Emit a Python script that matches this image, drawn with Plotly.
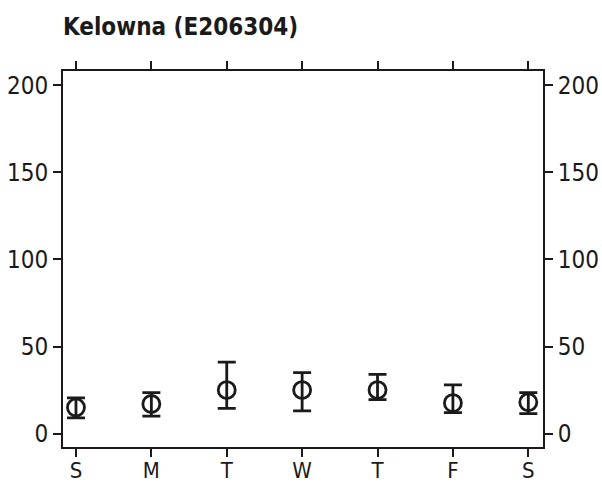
import plotly.graph_objects as go

# day-of-week labels and values
days = ["S", "M", "T", "W", "T", "F", "S"]
positions = [0, 1, 2, 3, 4, 5, 6]
means = [15, 17, 25, 25, 25, 17.5, 18]
upper = [20.5, 23.5, 41, 35, 34, 28, 23.5]
lower = [9, 10, 14.5, 13, 19.5, 12, 11.5]

err_plus = [u - m for u, m in zip(upper, means)]
err_minus = [m - l for m, l in zip(means, lower)]

ink = "#1a1a1a"
font_family = "DejaVu Sans Condensed, Liberation Sans Narrow, Arial Narrow, sans-serif"
y_range = [-7.7, 208.2]
W, H = 602, 483

fig = go.Figure()
fig.add_trace(go.Scatter(
    x=positions, y=means, mode="markers",
    marker=dict(symbol="circle-open", size=17, color=ink, line=dict(width=2.8, color=ink)),
    error_y=dict(type="data", symmetric=False, array=err_plus, arrayminus=err_minus,
                 color=ink, thickness=2.8, width=9),
    showlegend=False, hoverinfo="skip",
))
# invisible trace so the right-hand axis is drawn
fig.add_trace(go.Scatter(x=[0], y=[0], yaxis="y2", mode="markers",
                         marker=dict(opacity=0), showlegend=False, hoverinfo="skip"))

axis_common = dict(
    showline=True, linecolor=ink, linewidth=2,
    ticks="outside", ticklen=8, tickwidth=2, tickcolor=ink,
    showgrid=False, zeroline=False, automargin=False,
    tickfont=dict(family=font_family, size=24, color=ink),
)

fig.update_layout(
    width=W, height=H,
    margin=dict(l=63, r=59, t=71, b=36),
    paper_bgcolor="white", plot_bgcolor="white",
    title=dict(text="<b>Kelowna (E206304)</b>", xref="container", yref="container",
               x=63 / W, xanchor="left", y=1 - 18 / H, yanchor="top",
               font=dict(family=font_family, size=24, color=ink)),
    xaxis=dict(range=[-0.172, 6.195], tickmode="array", tickvals=positions, ticktext=days,
               mirror="ticks", ticklabelstandoff=-5,
               **{**axis_common, "tickfont": dict(family=font_family, size=22, color=ink)}),
    yaxis=dict(range=y_range, tickvals=[0, 50, 100, 150, 200], **axis_common),
    yaxis2=dict(range=y_range, tickvals=[0, 50, 100, 150, 200], overlaying="y",
                side="right", **axis_common),
)

# drop the page's default body margin so the figure sits at the window corner
fig.write_html("out.html", config={"displayModeBar": False},
               post_script="document.body.style.margin='0';")
